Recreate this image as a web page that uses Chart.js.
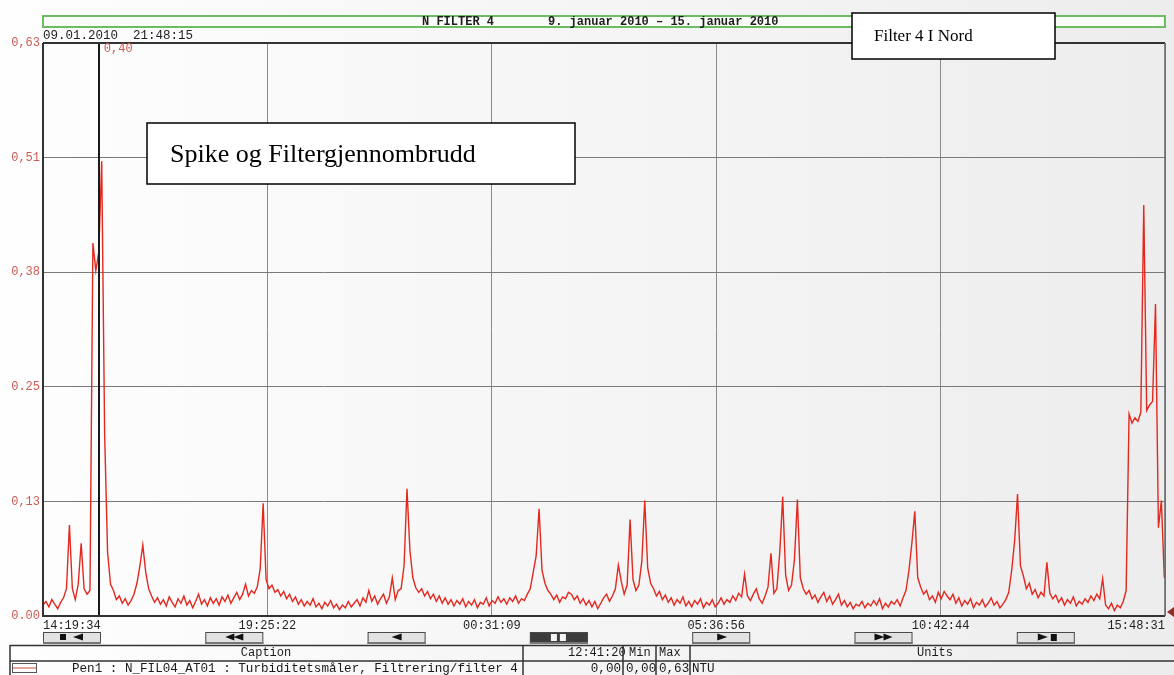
<!DOCTYPE html>
<html>
<head>
<meta charset="utf-8">
<script src="https://cdn.jsdelivr.net/npm/chart.js@4/dist/chart.umd.min.js"></script>
<style>
  html, body { margin: 0; padding: 0; }
  body {
    width: 1174px; height: 675px; overflow: hidden;
    background: linear-gradient(to right, #fefefe 0%, #f7f7f7 40%, #ededed 100%);
  }
  canvas { display: block; }
</style>
</head>
<body>
<canvas id="trend" width="1174" height="675"></canvas>
<script>
// ---- Trend data: N_FIL04_AT01 turbidity (NTU), one sample every 4 minutes ----
const timeLabels = ['14:19:34', '19:25:22', '00:31:09', '05:36:56', '10:42:44', '15:48:31'];
const yTickValues = [0, 0.126, 0.252, 0.378, 0.504, 0.63];
const yTickLabels = ['0.00', '0,13', '0.25', '0,38', '0,51', '0,63'];
const sampleIntervalMin = 4;
const turbidity = [
  0.012, 0.016, 0.010, 0.018, 0.013, 0.008, 0.015, 0.020, 0.030, 0.100, 0.030, 0.018, 0.035, 0.080, 0.030, 0.024, 0.028, 0.410, 0.380, 0.400,
  0.500, 0.200, 0.070, 0.035, 0.028, 0.018, 0.022, 0.014, 0.019, 0.012, 0.017, 0.024, 0.036, 0.055, 0.078, 0.048, 0.030, 0.022, 0.015, 0.020,
  0.013, 0.018, 0.011, 0.021, 0.015, 0.010, 0.019, 0.014, 0.022, 0.012, 0.017, 0.009, 0.016, 0.024, 0.013, 0.018, 0.011, 0.020, 0.014, 0.019,
  0.012, 0.021, 0.016, 0.023, 0.014, 0.020, 0.026, 0.018, 0.024, 0.035, 0.022, 0.028, 0.025, 0.032, 0.052, 0.124, 0.040, 0.030, 0.034, 0.026,
  0.029, 0.022, 0.027, 0.019, 0.024, 0.016, 0.021, 0.013, 0.018, 0.011, 0.016, 0.012, 0.019, 0.010, 0.014, 0.008, 0.015, 0.011, 0.017, 0.009,
  0.013, 0.007, 0.012, 0.009, 0.016, 0.010, 0.014, 0.018, 0.011, 0.020, 0.015, 0.028, 0.016, 0.022, 0.013, 0.019, 0.024, 0.014, 0.021, 0.042,
  0.018, 0.028, 0.030, 0.055, 0.140, 0.072, 0.042, 0.031, 0.026, 0.030, 0.022, 0.027, 0.019, 0.024, 0.016, 0.022, 0.014, 0.020, 0.013, 0.018,
  0.011, 0.017, 0.013, 0.019, 0.010, 0.016, 0.012, 0.018, 0.009, 0.015, 0.013, 0.020, 0.011, 0.017, 0.014, 0.021, 0.015, 0.019, 0.013, 0.020,
  0.016, 0.022, 0.014, 0.019, 0.017, 0.024, 0.030, 0.048, 0.066, 0.118, 0.050, 0.036, 0.028, 0.024, 0.018, 0.023, 0.015, 0.021, 0.019, 0.026,
  0.024, 0.018, 0.022, 0.014, 0.019, 0.012, 0.017, 0.010, 0.016, 0.008, 0.014, 0.020, 0.024, 0.016, 0.022, 0.030, 0.056, 0.038, 0.024, 0.034,
  0.106, 0.040, 0.028, 0.034, 0.060, 0.127, 0.053, 0.036, 0.030, 0.022, 0.027, 0.018, 0.023, 0.015, 0.020, 0.012, 0.018, 0.014, 0.021, 0.011,
  0.016, 0.010, 0.017, 0.013, 0.019, 0.009, 0.015, 0.012, 0.018, 0.010, 0.014, 0.020, 0.013, 0.018, 0.015, 0.022, 0.017, 0.025, 0.021, 0.046,
  0.022, 0.017, 0.024, 0.030, 0.019, 0.014, 0.022, 0.032, 0.069, 0.025, 0.030, 0.070, 0.131, 0.045, 0.028, 0.034, 0.062, 0.128, 0.042, 0.030,
  0.024, 0.028, 0.019, 0.023, 0.015, 0.021, 0.026, 0.016, 0.022, 0.013, 0.018, 0.024, 0.012, 0.017, 0.010, 0.015, 0.008, 0.013, 0.011, 0.016,
  0.009, 0.014, 0.011, 0.017, 0.012, 0.019, 0.008, 0.014, 0.010, 0.016, 0.013, 0.018, 0.011, 0.020, 0.028, 0.050, 0.080, 0.115, 0.042, 0.032,
  0.024, 0.028, 0.018, 0.022, 0.015, 0.026, 0.019, 0.027, 0.022, 0.018, 0.024, 0.014, 0.020, 0.011, 0.017, 0.013, 0.019, 0.009, 0.015, 0.012,
  0.018, 0.010, 0.014, 0.020, 0.012, 0.016, 0.009, 0.013, 0.018, 0.026, 0.050, 0.082, 0.134, 0.055, 0.044, 0.030, 0.036, 0.024, 0.029, 0.020,
  0.026, 0.022, 0.059, 0.025, 0.019, 0.023, 0.015, 0.020, 0.012, 0.018, 0.014, 0.021, 0.011, 0.016, 0.013, 0.019, 0.015, 0.022, 0.017, 0.024,
  0.019, 0.041, 0.012, 0.008, 0.014, 0.006, 0.012, 0.009, 0.016, 0.028, 0.222, 0.212, 0.218, 0.214, 0.224, 0.452, 0.226, 0.232, 0.236, 0.343,
  0.097, 0.127, 0.042
];

// Cursor readout
const cursorMinute = 76;
const cursorValueText = '0,40';
const cursorStamp = '09.01.2010  21:48:15';

// Texts around the trend
const headerTag = 'N FILTER 4';
const headerPeriod = '9. januar 2010 \u2013 15. januar 2010';
const noteTitle = 'Filter 4 I Nord';
const noteEvent = 'Spike og Filtergjennombrudd';
const penLine = 'Pen1 : N_FIL04_AT01 : Turbiditetsm\u00e5ler, Filtrering/filter 4';
const readTime = '12:41:20';
const penValue = '0,00', penMin = '0,00', penMax = '0,63', penUnit = 'NTU';

// ---- derived axis positions (minutes since the first label, wrapping past midnight) ----
function toSeconds(t) { const [h, m, s] = t.split(':').map(Number); return h * 3600 + m * 60 + s; }
const tickMinutes = [];
{
  let dayShift = 0, prev = -1;
  const base = toSeconds(timeLabels[0]);
  for (const t of timeLabels) {
    let s = toSeconds(t) + dayShift;
    if (s < prev) { dayShift += 86400; s += 86400; }
    prev = s;
    tickMinutes.push((s - base) / 60);
  }
}
const spanMinutes = tickMinutes[tickMinutes.length - 1];
const points = turbidity.map((v, i) => ({ x: i * sampleIntervalMin, y: v }));

const MONO = '"Liberation Mono", "DejaVu Sans Mono", monospace';
const SERIF = '"Liberation Serif", "DejaVu Serif", serif';

// ---- decorations drawn around the chart area ----
function tri(ctx, x, y, w, h, dir) {
  ctx.beginPath();
  if (dir < 0) { ctx.moveTo(x, y + h / 2); ctx.lineTo(x + w, y); ctx.lineTo(x + w, y + h); }
  else { ctx.moveTo(x + w, y + h / 2); ctx.lineTo(x, y); ctx.lineTo(x, y + h); }
  ctx.closePath(); ctx.fill();
}

function drawButton(ctx, x, y, w, h, kind) {
  const dark = kind === 'pause';
  ctx.fillStyle = dark ? '#3c3c3c' : '#e2e2e2';
  ctx.fillRect(x, y, w, h);
  ctx.strokeStyle = '#4a4a4a'; ctx.lineWidth = 1;
  ctx.strokeRect(x + 0.5, y + 0.5, w - 1, h - 1);
  ctx.fillStyle = '#777';
  ctx.fillRect(x, y + h - 2, w, 2);
  const cx = x + w / 2, cy = y + h / 2 - 1;
  ctx.fillStyle = dark ? '#f4f4f4' : '#111';
  const th = 7, tw = 8;
  if (kind === 'stopBack') { ctx.fillRect(cx - 12, cy - 3, 6, 6); tri(ctx, cx + 1, cy - th / 2, tw + 2, th, -1); }
  if (kind === 'fastBack') { tri(ctx, cx - 9, cy - th / 2, tw + 1, th, -1); tri(ctx, cx - 1, cy - th / 2, tw + 2, th, -1); }
  if (kind === 'back') { tri(ctx, cx - 5, cy - th / 2, tw + 2, th, -1); }
  if (kind === 'pause') { ctx.fillRect(cx - 8, cy - 3, 6, 7); ctx.fillRect(cx + 1, cy - 3, 6, 7); }
  if (kind === 'play') { tri(ctx, cx - 4, cy - th / 2, tw + 2, th, 1); }
  if (kind === 'fastFwd') { tri(ctx, cx - 9, cy - th / 2, tw + 2, th, 1); tri(ctx, cx, cy - th / 2, tw + 1, th, 1); }
  if (kind === 'playEnd') { tri(ctx, cx - 8, cy - th / 2, tw + 2, th, 1); ctx.fillRect(cx + 5, cy - 3, 6, 7); }
}

const trendFrame = {
  id: 'trendFrame',
  afterDatasetsDraw(chart) {
    const { ctx, chartArea: a, scales } = chart;
    ctx.save();
    // cursor
    const cx = Math.round(scales.x.getPixelForValue(cursorMinute));
    ctx.strokeStyle = '#1a1a1a'; ctx.lineWidth = 2;
    ctx.beginPath(); ctx.moveTo(cx, a.top); ctx.lineTo(cx, a.bottom); ctx.stroke();
    // frame
    ctx.strokeStyle = '#333'; ctx.lineWidth = 2;
    ctx.beginPath();
    ctx.moveTo(a.left, a.top); ctx.lineTo(a.right, a.top);
    ctx.moveTo(a.left, a.top); ctx.lineTo(a.left, a.bottom); ctx.lineTo(a.right, a.bottom);
    ctx.stroke();
    ctx.strokeStyle = '#666'; ctx.lineWidth = 1.5;
    ctx.beginPath(); ctx.moveTo(a.right, a.top); ctx.lineTo(a.right, a.bottom); ctx.stroke();
    // end marker
    ctx.fillStyle = '#8e2f2a';
    ctx.beginPath(); ctx.moveTo(a.right + 2, a.bottom - 4); ctx.lineTo(1174, a.bottom - 9); ctx.lineTo(1174, a.bottom + 1); ctx.closePath(); ctx.fill();
    ctx.restore();
  },
  afterDraw(chart) {
    const { ctx, chartArea: a, scales } = chart;
    ctx.save();
    ctx.textBaseline = 'middle';

    // header strip
    ctx.strokeStyle = '#6cbd62'; ctx.lineWidth = 2;
    ctx.fillStyle = '#fbfdfa';
    ctx.fillRect(a.left, 16, a.right - a.left, 11);
    ctx.strokeRect(a.left, 16, a.right - a.left, 11);
    ctx.fillStyle = '#1e1e1e';
    ctx.font = 'bold 12px ' + MONO;
    ctx.textAlign = 'left';
    ctx.fillText(headerTag, 422, 21.5);
    ctx.fillText(headerPeriod, 548, 21.5);

    // cursor stamp and readout
    ctx.font = '12.5px ' + MONO;
    ctx.fillStyle = '#1e1e1e';
    ctx.fillText(cursorStamp, a.left, 36);
    const cx = scales.x.getPixelForValue(cursorMinute);
    ctx.fillStyle = '#cf5a52';
    ctx.font = '12px ' + MONO;
    ctx.fillText(cursorValueText, cx + 5, 49);

    // note boxes
    ctx.fillStyle = '#fff'; ctx.strokeStyle = '#000'; ctx.lineWidth = 1.5;
    ctx.fillRect(852, 13, 203, 46); ctx.strokeRect(852, 13, 203, 46);
    ctx.fillStyle = '#000'; ctx.font = '17px ' + SERIF;
    ctx.fillText(noteTitle, 874, 37);
    ctx.fillStyle = '#fff';
    ctx.fillRect(147, 123, 428, 61); ctx.strokeRect(147, 123, 428, 61);
    ctx.fillStyle = '#000'; ctx.font = '26px ' + SERIF;
    ctx.fillText(noteEvent, 170, 155);

    // navigation buttons
    const kinds = ['stopBack', 'fastBack', 'back', 'pause', 'play', 'fastFwd', 'playEnd'];
    kinds.forEach((k, i) => drawButton(ctx, 43 + i * 162.3, 632, 58, 12, k));

    // caption table
    ctx.strokeStyle = '#333'; ctx.lineWidth = 1.5;
    ctx.beginPath();
    ctx.moveTo(10, 645.5); ctx.lineTo(1174, 645.5);
    ctx.moveTo(10, 661); ctx.lineTo(1174, 661);
    [10, 523, 623, 656, 690].forEach(x => { ctx.moveTo(x, 645); ctx.lineTo(x, 675); });
    ctx.stroke();
    ctx.fillStyle = '#1a1a1a';
    ctx.font = '12px ' + MONO;
    ctx.textAlign = 'center';
    ctx.fillText('Caption', 266, 653);
    ctx.fillText('Units', 935, 653);
    ctx.textAlign = 'left';
    ctx.fillText(readTime, 568, 653);
    ctx.fillText('Min', 629, 653);
    ctx.fillText('Max', 659, 653);
    ctx.font = '12.6px ' + MONO;
    ctx.fillText(penLine, 72, 669);
    ctx.textAlign = 'right';
    ctx.fillText(penValue, 621, 669);
    ctx.textAlign = 'left';
    ctx.fillText(penMin, 626, 669);
    ctx.fillText(penMax, 659, 669);
    ctx.fillText(penUnit, 692, 669);
    // pen swatch
    ctx.strokeStyle = '#555'; ctx.lineWidth = 1;
    ctx.strokeRect(12.5, 663.5, 24, 9);
    ctx.strokeStyle = '#d9463d';
    ctx.beginPath(); ctx.moveTo(13, 668); ctx.lineTo(36, 668); ctx.stroke();
    ctx.restore();
  }
};

new Chart(document.getElementById('trend'), {
  type: 'line',
  data: {
    datasets: [{
      label: 'N_FIL04_AT01',
      data: points,
      borderColor: '#e3281f',
      borderWidth: 1.4,
      pointRadius: 0,
      tension: 0,
      fill: false
    }]
  },
  options: {
    responsive: false,
    animation: false,
    devicePixelRatio: 1,
    layout: { padding: { left: 0, top: 43, right: 9, bottom: 39 } },
    plugins: { legend: { display: false }, tooltip: { enabled: false } },
    scales: {
      x: {
        type: 'linear',
        min: 0,
        max: spanMinutes,
        afterBuildTicks: s => { s.ticks = tickMinutes.map(v => ({ value: v })); },
        afterFit: s => { s.height = 20; },
        ticks: {
          autoSkip: false, maxRotation: 0, align: 'inner', padding: 3,
          color: '#222', font: { family: MONO, size: 12 },
          callback: (v, i) => timeLabels[i]
        },
        grid: { color: '#8a8a8a', lineWidth: 1, drawTicks: false },
        border: { display: false }
      },
      y: {
        min: 0,
        max: 0.63,
        afterBuildTicks: s => { s.ticks = yTickValues.map(v => ({ value: v })); },
        afterFit: s => { s.width = 43; },
        ticks: {
          padding: 3,
          color: '#cc5b53', font: { family: MONO, size: 12 },
          callback: (v, i) => yTickLabels[i]
        },
        grid: { color: '#7a7a7a', lineWidth: 1, drawTicks: false },
        border: { display: false }
      }
    }
  },
  plugins: [trendFrame]
});
</script>
</body>
</html>
